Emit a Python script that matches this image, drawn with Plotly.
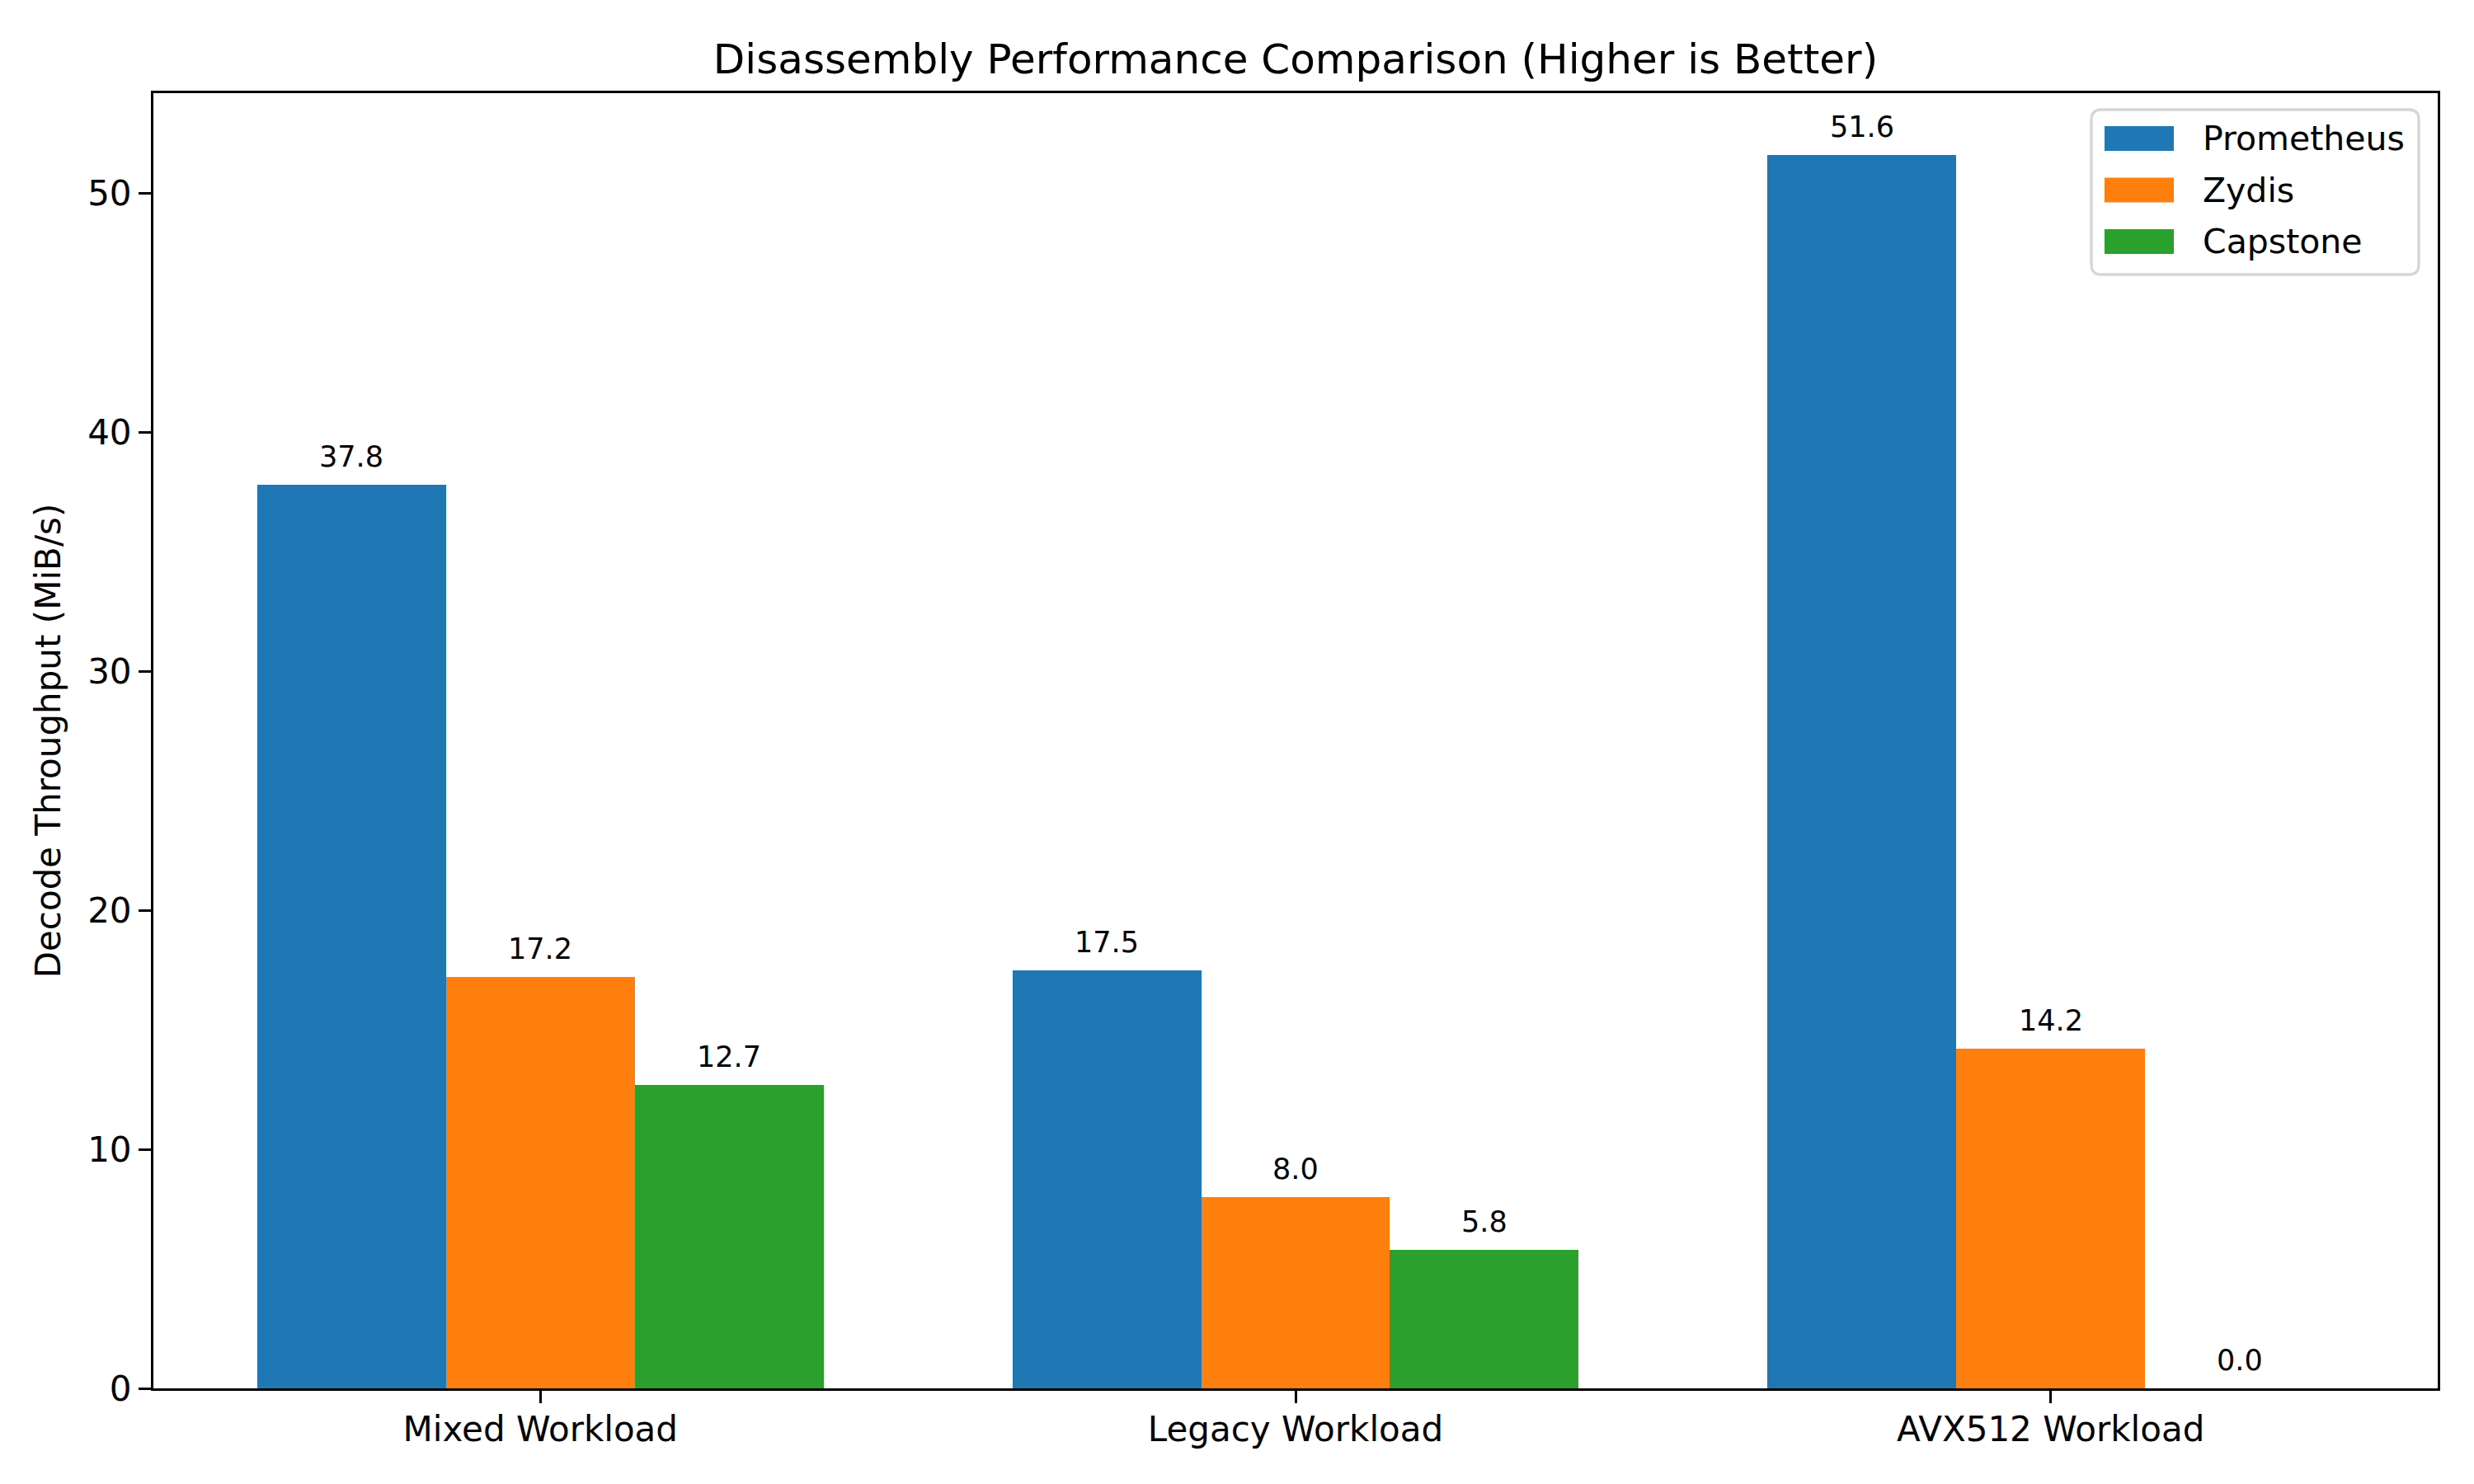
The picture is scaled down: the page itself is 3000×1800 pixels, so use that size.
import plotly.graph_objects as go

categories = ["Mixed Workload", "Legacy Workload", "AVX512 Workload"]
series_names = ["Prometheus", "Zydis", "Capstone"]
prometheus = [37.8, 17.5, 51.6]
zydis = [17.2, 8.0, 14.2]
capstone = [12.7, 5.8, 0.0]
colors = ["#1f77b4", "#ff7f0e", "#2ca02c"]

W, H = 3000, 1800
ML, MR, MT, MB = 186, 44, 113, 116
PW, PH = W - ML - MR, H - MT - MB


def px(xp):
    return (xp - ML) / PW


def py(yp):
    return (H - MB - yp) / PH


series = [prometheus, zydis, capstone]
bar_w = 0.25
fig = go.Figure()
annotations = []
shapes = []
for k, (name, vals, col) in enumerate(zip(series_names, series, colors)):
    xs = [i + (k - 1) * bar_w for i in range(len(categories))]
    fig.add_trace(go.Bar(x=xs, y=vals, width=bar_w, name=name, showlegend=False,
                         marker=dict(color=col, line=dict(width=0))))
    for x, v in zip(xs, vals):
        annotations.append(dict(x=x, y=v, xref="x", yref="y", text=f"{v:.1f}",
                                showarrow=False, yanchor="bottom", yshift=12,
                                font=dict(size=35, color="black")))

# custom legend (matplotlib-like)
lx0, lx1, ly0, ly1, r = 2536, 2933, 133, 333, 12
path = (f"M {px(lx0 + r)},{py(ly0)} L {px(lx1 - r)},{py(ly0)} "
        f"Q {px(lx1)},{py(ly0)} {px(lx1)},{py(ly0 + r)} L {px(lx1)},{py(ly1 - r)} "
        f"Q {px(lx1)},{py(ly1)} {px(lx1 - r)},{py(ly1)} L {px(lx0 + r)},{py(ly1)} "
        f"Q {px(lx0)},{py(ly1)} {px(lx0)},{py(ly1 - r)} L {px(lx0)},{py(ly0 + r)} "
        f"Q {px(lx0)},{py(ly0)} {px(lx0 + r)},{py(ly0)} Z")
shapes.append(dict(type="path", xref="paper", yref="paper", path=path,
                   fillcolor="rgba(255,255,255,0.8)", line=dict(color="#d6d6d6", width=3.3),
                   layer="above"))
row_c = [168, 230.5, 293]
for name, col, yc in zip(series_names, colors, row_c):
    shapes.append(dict(type="rect", xref="paper", yref="paper",
                       x0=px(2552), x1=px(2636), y0=py(yc + 15), y1=py(yc - 15),
                       fillcolor=col, line=dict(width=0), layer="above"))
    annotations.append(dict(x=px(2669), y=py(yc), xref="paper", yref="paper", text=name,
                            showarrow=False, xanchor="left", yanchor="middle",
                            font=dict(size=41, color="black")))

ymax = max(max(s) for s in series) * 1.05
fig.update_layout(
    width=W, height=H,
    margin=dict(l=ML, r=MR, t=MT, b=MB),
    paper_bgcolor="white", plot_bgcolor="white",
    font=dict(family="DejaVu Sans", color="black", size=42),
    title=dict(text="Disassembly Performance Comparison (Higher is Better)",
               x=0.5, xref="paper", xanchor="center", y=1 - 71 / H, yanchor="middle",
               font=dict(size=50)),
    bargap=0, barmode="overlay",
    showlegend=False,
    annotations=annotations,
    shapes=shapes,
)
fig.update_xaxes(range=[-0.5125, 2.5125], tickmode="array",
                 tickvals=list(range(len(categories))), ticktext=categories,
                 showline=True, linecolor="black", linewidth=3, mirror=True,
                 ticks="outside", ticklen=15, tickwidth=3, tickcolor="black",
                 showgrid=False, zeroline=False, tickfont=dict(size=42),
                 ticklabelstandoff=-4)
fig.update_yaxes(range=[0, ymax], tickmode="array", tickvals=[0, 10, 20, 30, 40, 50],
                 showline=True, linecolor="black", linewidth=3, mirror=True,
                 ticks="outside", ticklen=15, tickwidth=3, tickcolor="black",
                 showgrid=False, zeroline=False, tickfont=dict(size=42),
                 title=dict(text="Decode Throughput (MiB/s)", font=dict(size=42), standoff=20))
fig.write_html("out.html")
